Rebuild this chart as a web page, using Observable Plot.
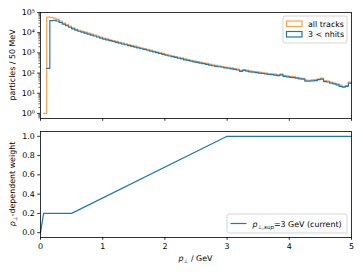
<!DOCTYPE html>
<html><head><meta charset="utf-8">
<script src="https://cdn.jsdelivr.net/npm/d3@7"></script>
<script src="https://cdn.jsdelivr.net/npm/@observablehq/plot@0.6"></script>
<style>
body{margin:0;background:#fff;}
#chart{width:363px;height:272px;font-family:"DejaVu Sans",sans-serif;}
#chart svg{display:block;}
</style></head><body><div id="chart"></div>
<script>
// ---- data ----
const binWidth = 0.05; // GeV, bins from 0 to 5 GeV
const allTracks = [null, 1, 59000, 58000, 53000, 46000, 37000, 30000, 25000, 21000,
  17500, 15000, 13200, 11800, 10600, 9500, 8500, 7600, 6800, 6000,
  5400, 4900, 4450, 4050, 3700, 3350, 3050, 2800, 2550, 2350,
  2150, 1950, 1780, 1640, 1500, 1360, 1240, 1130, 1030, 940,
  840, 780, 720, 660, 600, 560, 500, 470, 430, 400,
  370, 345, 320, 300, 275, 255, 240, 228, 215, 200,
  192, 180, 168, 158, 135, 150, 140, 128, 122, 118,
  110, 106, 100, 94, 92, 88, 82, 90, 76, 72,
  68, 66, 62, 58, 55, 45, 44, 46, 47, 52,
  56, 42, 40, 36, 32, 29, 25, 22, 24, 36];
const nhits3 = [null, null, 170, 40000, 41000, 38000, 32000, 26500, 22000, 18600,
  15600, 13400, 11800, 10600, 9500, 8500, 7650, 6850, 6100, 5400,
  4850, 4400, 4000, 3650, 3330, 3020, 2750, 2520, 2300, 2110,
  1930, 1760, 1600, 1480, 1350, 1230, 1120, 1020, 930, 850,
  760, 700, 650, 595, 540, 505, 450, 425, 390, 360,
  335, 310, 290, 270, 248, 230, 216, 205, 194, 180,
  173, 162, 151, 142, 122, 135, 126, 115, 110, 106,
  99, 95, 90, 85, 83, 79, 74, 81, 68, 65,
  61, 59, 56, 52, 50, 40, 40, 41, 42, 47,
  50, 38, 36, 32, 29, 26, 22, 20, 22, 32];
const seriesNames = ["all tracks", "3 < nhits"];
const seriesColors = ["#ff7f0e", "#1f77b4"];
const weightX = [0, 0.05, 0.5, 3, 5];
const weightY = [0, 0.2, 0.2, 1, 1];
const xTicks = [0, 1, 2, 3, 4, 5];
const logTicks = [1, 10, 100, 1000, 10000, 100000];
const logTickLabels = ["10⁰", "10¹", "10²", "10³", "10⁴", "10⁵"];
const minorLogTicks = [0.6, 0.7, 0.8, 0.9,
  2, 3, 4, 5, 6, 7, 8, 9, 20, 30, 40, 50, 60, 70, 80, 90,
  200, 300, 400, 500, 600, 700, 800, 900, 2000, 3000, 4000, 5000, 6000, 7000, 8000, 9000,
  20000, 30000, 40000, 50000, 60000, 70000, 80000, 90000];
const weightTicks = [0, 0.2, 0.4, 0.6, 0.8, 1.0];

// ---- build rows ----
function stepRows(vals) {
  const rows = vals.map((v, i) => ({x: i * binWidth, y: v}));
  rows.push({x: vals.length * binWidth, y: vals[vals.length - 1]});
  return rows;
}
const rowsAll = stepRows(allTracks);
const rowsN = stepRows(nhits3);
const weightRows = weightX.map((x, i) => ({x, y: weightY[i]}));

const W = 363, ML = 40, MR = 12;
const FS = 7.9;
const style = {fontFamily: "DejaVu Sans", fontSize: FS + "px", color: "#000", background: "#fff", overflow: "visible"};

const topPlot = Plot.plot({
  width: W, height: 125,
  marginLeft: ML, marginRight: MR, marginTop: 12, marginBottom: 7,
  style,
  x: {domain: [0, 5]},
  y: {type: "log", domain: [0.56, 100000]},
  marks: [
    Plot.line(rowsAll, {x: "x", y: "y", curve: "step-after", stroke: seriesColors[0], strokeWidth: 1.2, strokeOpacity: 0.75}),
    Plot.line(rowsN, {x: "x", y: "y", curve: "step-after", stroke: seriesColors[1], strokeWidth: 1.2}),
    Plot.axisY({ticks: minorLogTicks, tickSize: 1.6, tickFormat: () => "", label: null, strokeWidth: 0.6}),
    Plot.axisY({ticks: logTicks, tickSize: 2.8, tickPadding: 2.8, tickFormat: d => logTickLabels[logTicks.indexOf(d)], label: null, strokeWidth: 0.8}),
    Plot.axisX({ticks: xTicks, tickSize: 2.8, tickFormat: () => "", label: null, strokeWidth: 0.8}),
    Plot.frame({stroke: "#000", strokeWidth: 0.8})
  ]
});

const botPlot = Plot.plot({
  width: W, height: 147,
  marginLeft: ML, marginRight: MR, marginTop: 6, marginBottom: 35,
  style,
  x: {domain: [0, 5]},
  y: {domain: [-0.05, 1.05]},
  marks: [
    Plot.line(weightRows, {x: "x", y: "y", stroke: seriesColors[1], strokeWidth: 1.2}),
    Plot.axisY({ticks: weightTicks, tickSize: 2.8, tickPadding: 2.8, tickFormat: d3.format(".1f"), label: null, strokeWidth: 0.8}),
    Plot.axisX({ticks: xTicks, tickSize: 2.8, tickPadding: 2.8, tickFormat: d3.format("d"), label: null, strokeWidth: 0.8}),
    Plot.frame({stroke: "#000", strokeWidth: 0.8})
  ]
});

const root = document.getElementById("chart");
root.appendChild(topPlot);
root.appendChild(botPlot);

// ---- labels ----
const tS = d3.select(topPlot), bS = d3.select(botPlot);
const xs = topPlot.scale("x");
const xMid = (xs.apply(0) + xs.apply(5)) / 2;

tS.append("text")
  .attr("transform", `translate(13,65) rotate(-90)`)
  .attr("text-anchor", "middle").attr("dominant-baseline", "middle")
  .attr("font-size", FS).attr("fill", "#000")
  .text("particles / 50 MeV");

const yl = bS.append("text")
  .attr("transform", `translate(13,59) rotate(-90)`)
  .attr("text-anchor", "middle").attr("dominant-baseline", "middle")
  .attr("font-size", FS).attr("fill", "#000");
yl.append("tspan").attr("font-style", "italic").text("p");
yl.append("tspan").attr("font-size", FS * 0.7).attr("dy", 2).text("⊥");
yl.append("tspan").attr("dy", -2).text("-dependent weight");

const xl = bS.append("text")
  .attr("x", xMid).attr("y", 136)
  .attr("text-anchor", "middle")
  .attr("font-size", FS).attr("fill", "#000");
xl.append("tspan").attr("font-style", "italic").text("p");
xl.append("tspan").attr("font-size", FS * 0.7).attr("dy", 2).text("⊥");
xl.append("tspan").attr("dy", -2).text(" / GeV");

// ---- legend top ----
const lg = tS.append("g").attr("text-anchor", "start");
lg.append("rect").attr("x", 283).attr("y", 16).attr("width", 64).attr("height", 27)
  .attr("rx", 2).attr("fill", "#fff").attr("fill-opacity", 0.8).attr("stroke", "#ccc").attr("stroke-width", 0.8);
seriesNames.forEach((name, i) => {
  const y0 = 21 + i * 10.5;
  lg.append("rect").attr("x", 286.5).attr("y", y0).attr("width", 15.5).attr("height", 5.5)
    .attr("fill", "none").attr("stroke", seriesColors[i]).attr("stroke-width", 1.2)
    .attr("stroke-opacity", i === 0 ? 0.75 : 1);
  lg.append("text").attr("x", 308).attr("y", y0 + 5.5).attr("text-anchor", "start")
    .attr("font-size", FS).attr("fill", "#000").text(name);
});

// ---- legend bottom ----
const lb = bS.append("g").attr("text-anchor", "start");
lb.append("rect").attr("x", 227).attr("y", 89).attr("width", 120).attr("height", 19)
  .attr("rx", 2).attr("fill", "#fff").attr("fill-opacity", 0.8).attr("stroke", "#ccc").attr("stroke-width", 0.8);
lb.append("line").attr("x1", 230.5).attr("x2", 246.5).attr("y1", 98.5).attr("y2", 98.5)
  .attr("stroke", seriesColors[1]).attr("stroke-width", 1.2);
const lt = lb.append("text").attr("x", 252.5).attr("y", 101.5).attr("text-anchor", "start")
  .attr("font-size", FS).attr("fill", "#000");
lt.append("tspan").attr("font-style", "italic").text("p");
lt.append("tspan").attr("font-size", FS * 0.7).attr("font-style", "italic").attr("dy", 2).text("⊥,sup");
lt.append("tspan").attr("dy", -2).text("=3 GeV (current)");
</script></body></html>
